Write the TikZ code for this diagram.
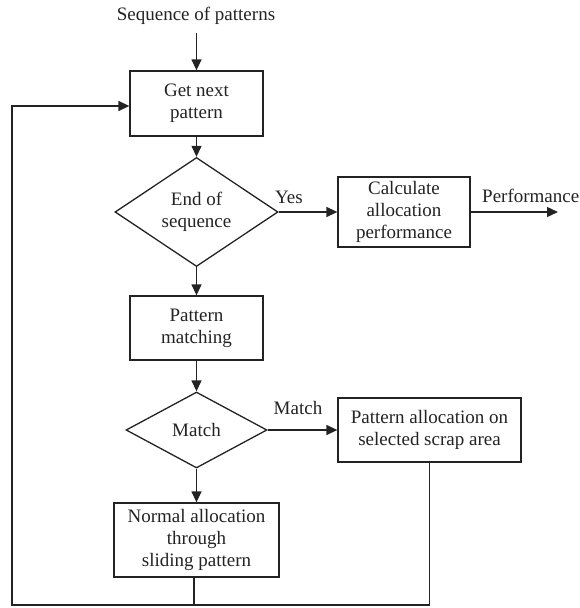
\documentclass[tikz,border=0pt]{standalone}
\usepackage{fontspec}
\setmainfont{Liberation Serif}
\usetikzlibrary{arrows.meta,shapes.geometric}
\definecolor{ink}{RGB}{35,35,35}
\begin{document}
\begin{tikzpicture}[x=1pt,y=-1pt,
  every node/.style={font=\fontsize{19}{22}\selectfont, text=ink},
  procbox/.style={draw=ink, line width=1.3pt, rectangle, inner sep=0pt, align=center},
  decision/.style={draw=ink, line width=1.3pt, diamond, inner sep=0pt, align=center},
  lbl/.style={inner sep=0pt},
  flow/.style={draw=ink, line width=1.3pt, -{Triangle[length=11pt,width=10pt]}},
  plain/.style={draw=ink, line width=1.3pt}]
\useasboundingbox (0,0) rectangle (579,608);
\node[lbl] (seq) at (196,16) {Sequence of patterns};
\coordinate (seqbot) at (196.5,33);
\node[procbox, minimum width=133pt, minimum height=65pt] (get) at (196.5,103.5) {Get next\\pattern};
\node[decision, minimum width=163pt, minimum height=94pt] (d1) at (196.5,212) {End of\\sequence};
\node[procbox, minimum width=132pt, minimum height=70pt] (calc) at (404,212) {Calculate\\allocation\\performance};
\coordinate (perfend) at (558,212);
\node[lbl, anchor=west] (perf) at (482,196) {Performance};
\node[lbl] (yes) at (289,197) {Yes};
\node[procbox, minimum width=133pt, minimum height=64pt] (pm) at (196.5,328) {Pattern\\matching};
\node[decision, minimum width=141pt, minimum height=76pt] (d2) at (196.5,430) {Match};
\node[lbl] (mlbl) at (298,408) {Match};
\node[procbox, minimum width=183pt, minimum height=64pt] (pa) at (429.5,430) {Pattern allocation on\\selected scrap area};
\node[procbox, minimum width=165pt, minimum height=74pt] (na) at (196.5,540) {Normal allocation\\through\\sliding pattern};
\coordinate (bl) at (12,605);
\coordinate (br) at (429.5,605);
\coordinate (nab) at (194,577);

\draw[flow] (seqbot) -- (get.north);
\draw[flow] (get.south) -- (d1.north);
\draw[flow] (d1.east) -- (calc.west);
\draw[flow] (calc.east) -- (perfend);
\draw[flow] (d1.south) -- (pm.north);
\draw[flow] (pm.south) -- (d2.north);
\draw[flow] (d2.east) -- (pa.west);
\draw[flow] (d2.south) -- (na.north);
\draw[plain] (nab) -- (nab |- bl);
\draw[flow] (pa.south) -- (br) -- (bl) |- ([yshift=-2.5pt]get.west);
\end{tikzpicture}
\end{document}
